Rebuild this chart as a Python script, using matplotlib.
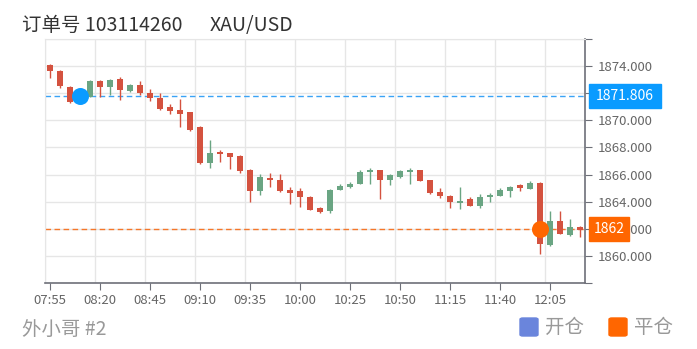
import numpy as np
import matplotlib
matplotlib.use("Agg")
import matplotlib.pyplot as plt
from matplotlib.patches import Rectangle, FancyBboxPatch
from matplotlib.transforms import blended_transform_factory

plt.rcParams['font.family'] = ['Noto Sans CJK SC', 'DejaVu Sans']

# 5-minute candles 07:55 .. 12:20
opens = [1874.07, 1873.63, 1872.47, 1871.40, 1871.73, 1872.91, 1872.47, 1873.06, 1872.17, 1872.59,
         1872.00, 1871.68, 1870.99, 1870.74, 1870.61, 1869.50, 1866.84, 1867.63, 1867.58, 1867.39,
         1866.35, 1864.81, 1865.73, 1865.63, 1864.87, 1864.81, 1864.37, 1863.54, 1863.28, 1864.87,
         1865.09, 1865.33, 1866.17, 1866.32, 1865.58, 1865.83, 1866.22, 1866.32, 1865.58, 1864.74,
         1864.44, 1863.93, 1864.17, 1863.68, 1864.37, 1864.42, 1864.81, 1865.21, 1864.96, 1865.36,
         1860.81, 1862.54, 1861.56, 1862.10]
closes = [1873.63, 1872.52, 1871.36, 1871.75, 1872.91, 1872.47, 1873.01, 1872.22, 1872.59, 1871.98,
          1871.65, 1870.81, 1870.67, 1870.44, 1869.26, 1866.84, 1867.58, 1867.51, 1867.28, 1866.24,
          1864.81, 1865.85, 1865.61, 1864.76, 1864.67, 1864.32, 1863.38, 1863.24, 1864.87, 1865.16,
          1865.33, 1866.22, 1866.32, 1865.58, 1865.98, 1866.27, 1866.32, 1865.53, 1864.64, 1864.39,
          1863.95, 1864.02, 1863.68, 1864.32, 1864.47, 1864.87, 1865.11, 1865.01, 1865.41, 1860.87,
          1862.59, 1861.61, 1862.10, 1861.90]
highs = [1874.12, 1873.74, 1872.50, 1871.95, 1872.95, 1873.00, 1873.05, 1873.20, 1872.67, 1872.90,
         1872.30, 1871.98, 1871.20, 1871.60, 1870.65, 1869.55, 1868.52, 1867.78, 1867.62, 1867.45,
         1866.40, 1866.05, 1866.13, 1866.05, 1865.10, 1865.00, 1864.40, 1863.63, 1864.90, 1865.30,
         1865.43, 1866.37, 1866.47, 1866.35, 1866.07, 1866.30, 1866.47, 1866.36, 1865.62, 1865.04,
         1864.47, 1865.11, 1864.37, 1864.57, 1864.67, 1865.00, 1865.15, 1865.30, 1865.56, 1865.46,
         1863.33, 1863.33, 1862.69, 1862.20]
lows = [1873.13, 1872.40, 1871.30, 1871.25, 1871.70, 1871.73, 1871.90, 1871.50, 1872.10, 1871.90,
        1871.46, 1870.78, 1870.50, 1869.50, 1869.20, 1866.80, 1866.50, 1866.90, 1866.40, 1866.10,
        1863.95, 1864.52, 1865.10, 1864.70, 1863.83, 1863.58, 1863.35, 1863.14, 1863.20, 1864.85,
        1865.00, 1865.30, 1865.33, 1864.20, 1865.24, 1865.73, 1865.33, 1865.50, 1864.60, 1864.24,
        1863.56, 1863.48, 1863.66, 1863.53, 1863.98, 1864.40, 1864.37, 1864.80, 1864.90, 1860.13,
        1860.70, 1861.58, 1861.46, 1861.36]
time_labels = ['07:55', '08:20', '08:45', '09:10', '09:35', '10:00',
               '10:25', '10:50', '11:15', '11:40', '12:05']

open_idx, open_price = 3, 1871.806
close_idx, close_price = 49, 1862.0

RED = '#d4523f'
GREEN = '#6aa583'
GRID = '#e6e6e6'
AXIS = '#6e7079'

fig = plt.figure(figsize=(6.97, 3.49), dpi=100)
W, H = 697, 349
ax = fig.add_axes([45 / W, 1 - 283 / H, 540 / W, (283 - 39) / H])

n = len(opens)
x = np.arange(n)
o = np.array(opens); c = np.array(closes)
colors = [GREEN if cc >= oo else RED for oo, cc in zip(o, c)]
body_lo = np.minimum(o, c)
body_h = np.maximum(np.abs(c - o), 0.1)

ax.vlines(x, lows, highs, colors=colors, linewidth=1, zorder=3)
ax.bar(x, body_h, bottom=body_lo, width=0.6, color=colors, zorder=3)

ax.set_xlim(-0.5, n - 0.5)
ax.set_ylim(1858, 1876)

# x axis
ax.set_xticks(np.arange(0, n, 5))
ax.set_xticklabels(time_labels)
ax.set_xticks(np.arange(-0.5, n - 0.5, 5), minor=True)
ax.tick_params(axis='x', which='minor', length=0)
ax.tick_params(axis='x', which='major', length=5, color=AXIS, labelcolor='#666666',
               labelsize=9.5, pad=3)
ax.grid(True, axis='x', which='minor', color=GRID, linewidth=1)

# y axis (1872 label sits under the open-price tag)
ax.yaxis.tick_right()
yt = np.arange(1858, 1877, 2)
ax.set_yticks(yt)
ax.set_yticklabels(['' if v in (1858, 1872, 1876) else '%.3f' % v for v in yt])
ax.tick_params(axis='y', length=5, color=AXIS, labelcolor='#666666', labelsize=9.5, pad=4)
ax.grid(True, axis='y', color=GRID, linewidth=1)
ax.set_axisbelow(True)

for s in ['left', 'top']:
    ax.spines[s].set_color(GRID)
for s in ['bottom', 'right']:
    ax.spines[s].set_color(AXIS)
    ax.spines[s].set_linewidth(1.2)

# order lines and markers
ax.axhline(open_price, color='#3aa3f5', linestyle=(0, (4, 2.5)), linewidth=1, zorder=2)
ax.axhline(close_price, color='#f5772a', linestyle=(0, (4, 2.5)), linewidth=1, zorder=2)
ax.scatter([open_idx], [open_price], s=150, color='#0a9bff', zorder=6, linewidths=0)
ax.scatter([close_idx], [close_price], s=150, color='#ff6600', zorder=6, linewidths=0)

# price tags on the right axis
tr = blended_transform_factory(fig.transFigure, ax.transData)
box_h = 24 / 13.5
for price, txt, col, x0, x1 in [(open_price, '1871.806', '#0a9bff', 589, 661),
                                (close_price, '1862', '#ff6600', 589, 629)]:
    ax.add_patch(Rectangle((x0 / W, price - box_h / 2), (x1 - x0) / W, box_h,
                           transform=tr, color=col, clip_on=False, zorder=7))
    ax.text((x0 + x1) / 2 / W, price, txt, transform=tr, color='white', fontsize=10,
            ha='center', va='center', zorder=8, clip_on=False)

# title and footer
fig.text(22 / W, 1 - 25 / H, '订单号 103114260', fontsize=14, color='#333333',
         ha='left', va='center')
fig.text(210 / W, 1 - 25 / H, 'XAU/USD', fontsize=14, color='#333333',
         ha='left', va='center')
fig.text(22 / W, 1 - 329 / H, '外小哥 #2', fontsize=14, color='#999999', ha='left', va='center')

# legend
for x0, col, label in [(520, '#6a85dc', '开仓'), (609, '#ff6600', '平仓')]:
    fig.patches.append(FancyBboxPatch((x0 / W, 1 - 336 / H), 18 / W, 18 / H,
                                      boxstyle='round,pad=0,rounding_size=0.004',
                                      transform=fig.transFigure, color=col))
    fig.text((x0 + 25) / W, 1 - 327.5 / H, label, fontsize=14, color='#999999',
             ha='left', va='center')

fig.savefig('out.png', dpi=100)
